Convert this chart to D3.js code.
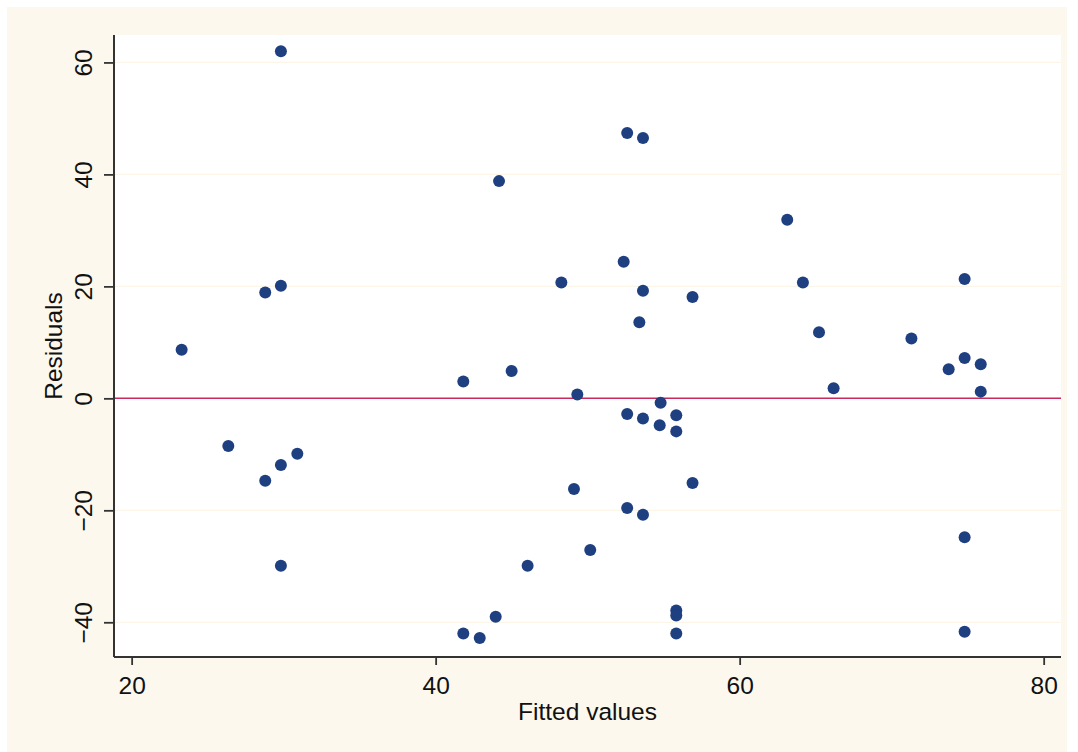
<!DOCTYPE html>
<html>
<head>
<meta charset="utf-8">
<script src="https://cdn.jsdelivr.net/npm/d3@7"></script>
<style>
    body { margin: 0; background: #ffffff; }
    svg { display: block; font-family: "Liberation Sans", Arial, sans-serif; }
</style>
</head>
<body>
<svg id="chart" width="1078" height="752"></svg>
<script>

// ----- DATA -----

var fitted = [
    29.82, 29.82, 28.79, 23.29, 26.36, 30.9, 29.82, 28.79, 29.82,
    52.6, 53.64, 44.17, 52.37, 48.27, 53.64, 56.9, 53.4,
    41.82, 45.0, 49.32, 54.8, 52.6, 53.64, 55.83, 54.74, 55.83,
    49.1, 56.9, 52.6, 53.64, 50.17, 46.05, 43.95, 41.82, 42.9,
    55.83, 55.83, 55.83,
    63.13, 64.16, 74.8, 65.22, 71.3, 74.8, 73.75, 75.86, 66.18, 75.86, 74.8, 74.8
];

var residuals = [
    62.0, 20.1, 18.9, 8.7, -8.5, -9.9, -11.9, -14.7, -29.9,
    47.4, 46.5, 38.8, 24.4, 20.7, 19.2, 18.1, 13.6,
    3.0, 4.9, 0.7, -0.8, -2.8, -3.6, -3.0, -4.8, -5.9,
    -16.2, -15.1, -19.6, -20.8, -27.1, -29.9, -39.0, -42.0, -42.8,
    -37.9, -38.8, -42.0,
    31.9, 20.7, 21.3, 11.8, 10.7, 7.2, 5.2, 6.1, 1.8, 1.2, -24.8, -41.7
];

var xTicks = [20, 40, 60, 80];
var yTicks = [-40, -20, 0, 20, 40, 60];

// ----- LAYOUT -----

var svg = d3.select("#chart");
var plotLeft = 114, plotRight = 1061, plotTop = 35, plotBottom = 657;

var x = d3.scaleLinear().domain([18.84, 81.14]).range([plotLeft, plotRight]);
var y = d3.scaleLinear().domain([-46.2, 64.9]).range([plotBottom, plotTop]);

// cream outer panel and white plot region
svg.append("rect")
    .attr("x", 7).attr("y", 7)
    .attr("width", 1060).attr("height", 745)
    .style("fill", "#fdf8ed");
svg.append("rect")
    .attr("x", plotLeft).attr("y", plotTop)
    .attr("width", plotRight - plotLeft).attr("height", plotBottom - plotTop)
    .style("fill", "#ffffff");

// faint grid lines
svg.selectAll(".grid")
    .data(yTicks)
    .enter().append("line")
    .attr("class", "grid")
    .attr("x1", plotLeft).attr("x2", plotRight)
    .attr("y1", function(d) { return y(d); })
    .attr("y2", function(d) { return y(d); })
    .attr("stroke", "#fcf6e8")
    .attr("stroke-width", 1.2);

// reference line at zero
svg.append("line")
    .attr("x1", plotLeft).attr("x2", plotRight)
    .attr("y1", y(0)).attr("y2", y(0))
    .attr("stroke", "#c92a5c")
    .attr("stroke-width", 1.5);

// ----- AXES -----

var xAxis = svg.append("g")
    .attr("transform", "translate(0," + plotBottom + ")")
    .call(d3.axisBottom(x).tickValues(xTicks).tickSize(8).tickSizeOuter(0));
xAxis.select(".domain").attr("stroke", "#333333").attr("stroke-width", 2)
    .attr("d", "M" + plotLeft + ",0H" + plotRight);
xAxis.selectAll(".tick line").attr("stroke", "#333333").attr("stroke-width", 1.8);
xAxis.selectAll(".tick text")
    .attr("y", 37).attr("dy", null)
    .style("font-size", "24.5px")
    .style("fill", "#111111");

var yAxis = svg.append("g")
    .attr("transform", "translate(" + plotLeft + ",0)")
    .call(d3.axisLeft(y).tickValues(yTicks).tickSize(10).tickSizeOuter(0));
yAxis.select(".domain").attr("stroke", "#333333").attr("stroke-width", 2)
    .attr("d", "M0," + plotTop + "V" + plotBottom);
yAxis.selectAll(".tick line").attr("stroke", "#333333").attr("stroke-width", 1.8);
yAxis.selectAll(".tick text")
    .attr("x", 0).attr("dy", null)
    .attr("text-anchor", "middle")
    .attr("transform", "translate(-22,0) rotate(-90)")
    .style("font-size", "24.5px")
    .style("fill", "#111111");

// axis titles
svg.append("text")
    .attr("x", (plotLeft + plotRight) / 2)
    .attr("y", 720)
    .attr("text-anchor", "middle")
    .style("font-size", "24.5px")
    .style("fill", "#111111")
    .text("Fitted values");

svg.append("text")
    .attr("transform", "translate(62," + ((plotTop + plotBottom) / 2) + ") rotate(-90)")
    .attr("text-anchor", "middle")
    .style("font-size", "24.5px")
    .style("fill", "#111111")
    .text("Residuals");

// ----- POINTS -----

svg.selectAll(".dot")
    .data(fitted)
    .enter().append("circle")
    .attr("class", "dot")
    .attr("cx", function(d) { return x(d); })
    .attr("cy", function(d, i) { return y(residuals[i]); })
    .attr("r", 6)
    .style("fill", "#1e3f80");

</script>
</body>
</html>
